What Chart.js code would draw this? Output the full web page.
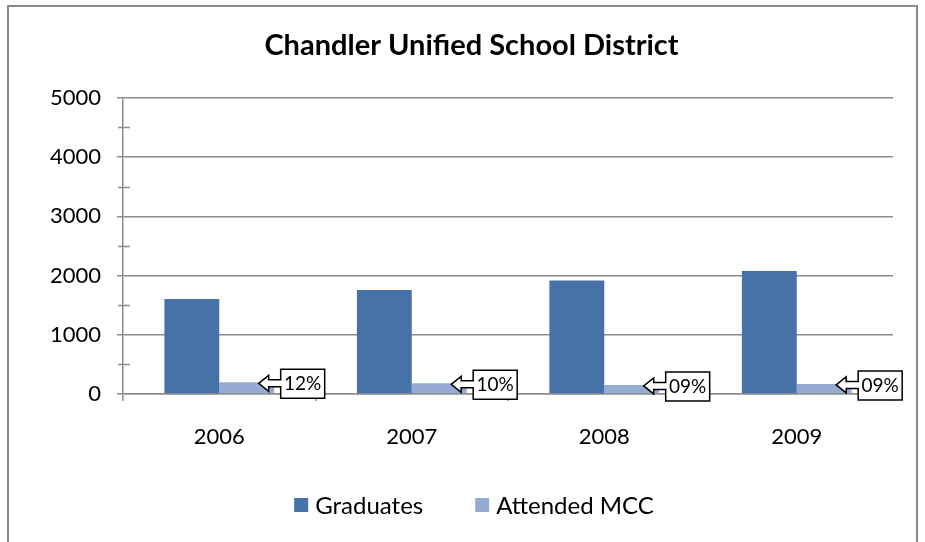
<!DOCTYPE html>
<html>
<head>
<meta charset="utf-8">
<script src="https://cdn.jsdelivr.net/npm/chart.js@4/dist/chart.umd.min.js"></script>
<style>
  html, body { margin: 0; padding: 0; background: #fff; }
  #wrap { width: 925px; height: 542px; }
</style>
</head>
<body>
<div id="wrap"><canvas id="chart" width="925" height="542"></canvas></div>
<script>
// Datos
const years = ['2006', '2007', '2008', '2009'];
const graduates = [1604, 1757, 1915, 2075];
const attendedMCC = [197, 180, 153, 170];
const pctLabels = ['12%', '10%', '09%', '09%'];

const FONT = "Lato, 'Open Sans', sans-serif";
const GRID = '#8c8c8c';

// Marco exterior + fondo blanco
const framePlugin = {
    id: 'frame',
    beforeDraw(chart) {
        const c = chart.ctx;
        c.save();
        c.fillStyle = '#fff';
        c.fillRect(0, 0, chart.width, chart.height);
        c.strokeStyle = '#8a8a8a';
        c.lineWidth = 2;
        c.strokeRect(8, 6, 909, 560);
        c.restore();
    }
};

// Marcas menores del eje Y (cruzan el eje)
const minorTicks = {
    id: 'minorTicks',
    afterDraw(chart) {
        const y = chart.scales.y;
        const c = chart.ctx;
        c.save();
        c.strokeStyle = GRID;
        c.lineWidth = 1.5;
        for (let v = 500; v < 5000; v += 1000) {
            const py = Math.round(y.getPixelForValue(v)) + 0.5;
            c.beginPath();
            c.moveTo(y.right - 5, py);
            c.lineTo(y.right + 7, py);
            c.stroke();
        }
        c.restore();
    }
};

// Llamadas con flecha para los porcentajes
const callouts = {
    id: 'callouts',
    afterDatasetsDraw(chart) {
        const meta = chart.getDatasetMeta(1);
        const c = chart.ctx;
        c.save();
        meta.data.forEach((bar, i) => {
            const tx = bar.x + 12;
            const ty = bar.y + 1;
            c.beginPath();
            c.moveTo(tx, ty);
            c.lineTo(tx + 10, ty - 8);
            c.lineTo(tx + 10, ty - 3.5);
            c.lineTo(tx + 22, ty - 3.5);
            c.lineTo(tx + 22, ty - 14);
            c.lineTo(tx + 66, ty - 14);
            c.lineTo(tx + 66, ty + 15);
            c.lineTo(tx + 22, ty + 15);
            c.lineTo(tx + 22, ty + 3.5);
            c.lineTo(tx + 10, ty + 3.5);
            c.lineTo(tx + 10, ty + 8);
            c.closePath();
            c.fillStyle = '#fff';
            c.fill();
            c.strokeStyle = '#000';
            c.lineWidth = 1.5;
            c.stroke();
            c.fillStyle = '#000';
            c.font = '19px ' + FONT;
            c.textAlign = 'center';
            c.textBaseline = 'middle';
            c.fillText(pctLabels[i], tx + 44, ty + 1);
        });
        c.restore();
    }
};

// Leyenda dibujada a mano (separaciones como el original)
const customLegend = {
    id: 'customLegend',
    afterDraw(chart) {
        const c = chart.ctx;
        const sets = chart.data.datasets;
        c.save();
        c.font = '24px ' + FONT;
        c.textBaseline = 'middle';
        c.textAlign = 'left';
        const box = 14, gapText = 7, gapItem = 52;
        const widths = sets.map(d => box + gapText + c.measureText(d.label).width);
        const total = widths.reduce((a, b) => a + b, 0) + gapItem * (sets.length - 1);
        let x = 474 - total / 2;
        const cy = 505;
        sets.forEach((d, i) => {
            c.fillStyle = d.backgroundColor;
            c.fillRect(x, cy - box / 2, box, box);
            c.fillStyle = '#000';
            c.fillText(d.label, x + box + gapText, cy + 1);
            x += widths[i] + gapItem;
        });
        c.restore();
    }
};

const ctx = document.getElementById('chart').getContext('2d');
const chart = new Chart(ctx, {
    type: 'bar',
    data: {
        labels: years,
        datasets: [
            {
                label: 'Graduates',
                data: graduates,
                backgroundColor: '#4672a7',
                categoryPercentage: 0.57,
                barPercentage: 1.0
            },
            {
                label: 'Attended MCC',
                data: attendedMCC,
                backgroundColor: '#95abd3',
                categoryPercentage: 0.57,
                barPercentage: 1.0
            }
        ]
    },
    options: {
        responsive: false,
        animation: false,
        layout: { padding: { left: 50, right: 32, top: 0, bottom: 60 } },
        plugins: {
            title: {
                display: true,
                text: 'Chandler Unified School District',
                color: '#000',
                font: { family: FONT, size: 29, weight: 'bold' },
                padding: { top: 28, bottom: 35 }
            },
            legend: { display: false },
            tooltip: { enabled: false }
        },
        scales: {
            y: {
                min: 0,
                max: 5000,
                afterFit(scale) { scale.width = 73; },
                border: { color: GRID, width: 1.5 },
                grid: { color: GRID, lineWidth: 1.5, tickLength: 6 },
                ticks: {
                    stepSize: 1000,
                    color: '#000',
                    padding: 16,
                    font: { family: FONT, size: 22 },
                    callback: v => String(v)
                }
            },
            x: {
                afterFit(scale) { scale.height = 88; },
                border: { color: GRID, width: 1.5 },
                grid: { drawOnChartArea: false, color: GRID, lineWidth: 1.5, tickLength: 7, offset: true },
                ticks: {
                    color: '#000',
                    padding: 23,
                    font: { family: FONT, size: 22 }
                }
            }
        }
    },
    plugins: [framePlugin, minorTicks, callouts, customLegend]
});
</script>
</body>
</html>
